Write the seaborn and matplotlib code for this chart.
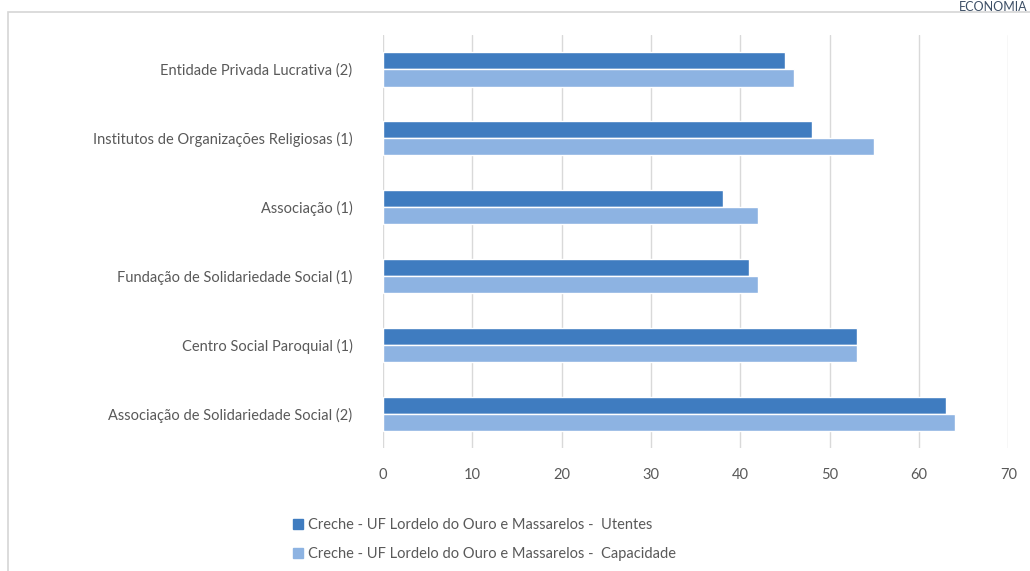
import pandas as pd
import matplotlib.pyplot as plt
import seaborn as sns
from matplotlib.patches import Rectangle

# chart data
categories = ['Entidade Privada Lucrativa (2)',
              'Institutos de Organizações Religiosas (1)',
              'Associação (1)',
              'Fundação de Solidariedade Social (1)',
              'Centro Social Paroquial (1)',
              'Associação de Solidariedade Social (2)']
utentes = [45, 48, 38, 41, 53, 63]
capacidade = [46, 55, 42, 42, 53, 64]
series_names = ['Creche - UF Lordelo do Ouro e Massarelos -  Utentes',
                'Creche - UF Lordelo do Ouro e Massarelos -  Capacidade']
x_ticks = [0, 10, 20, 30, 40, 50, 60, 70]

df = pd.DataFrame({
    'categoria': categories * 2,
    'valor': utentes + capacidade,
    'serie': [series_names[0]] * len(categories) + [series_names[1]] * len(categories),
})

sns.set_theme(style='white')
plt.rcParams['font.family'] = ['Lato', 'DejaVu Sans']
text_col = '#595959'
colors = ['#3F7CC0', '#8DB3E2']

fig = plt.figure(figsize=(10.3, 5.71), dpi=100)
ax = fig.add_axes([0.372, 0.215, 0.607, 0.724])

# screenshot frame around the chart panel
fig.patches.append(Rectangle((0.008, -0.05), 1.1, 1.029, transform=fig.transFigure,
                             facecolor='white', edgecolor='#d6d6d6', lw=1.2, zorder=-5))

sns.barplot(data=df, y='categoria', x='valor', hue='serie', order=categories,
            hue_order=series_names, palette=colors, saturation=1,
            width=0.5, orient='h', ax=ax, legend=False, zorder=3)

ax.set_xlim(0, 70)
ax.set_xticks(x_ticks)
ax.grid(axis='x', color='#d9d9d9', lw=1, zorder=0)
ax.set_xlabel('')
ax.set_ylabel('')
for s in ax.spines.values():
    s.set_visible(False)
ax.tick_params(axis='both', length=0, labelsize=10.5, labelcolor=text_col)
ax.tick_params(axis='x', pad=14)
ax.tick_params(axis='y', pad=22)

handles = [Rectangle((0, 0), 1, 1, color=c) for c in colors]
fig.legend(handles, series_names, loc='upper left', bbox_to_anchor=(0.272, 0.115),
           frameon=False, fontsize=10.5, labelcolor=text_col, handlelength=0.7,
           handleheight=0.7, handletextpad=0.3, labelspacing=1.0)

fig.text(0.998, 0.999, 'ECONOMIA', fontsize=9, color='#3d4f66', va='top', ha='right')

fig.savefig('out.png', dpi=100)
